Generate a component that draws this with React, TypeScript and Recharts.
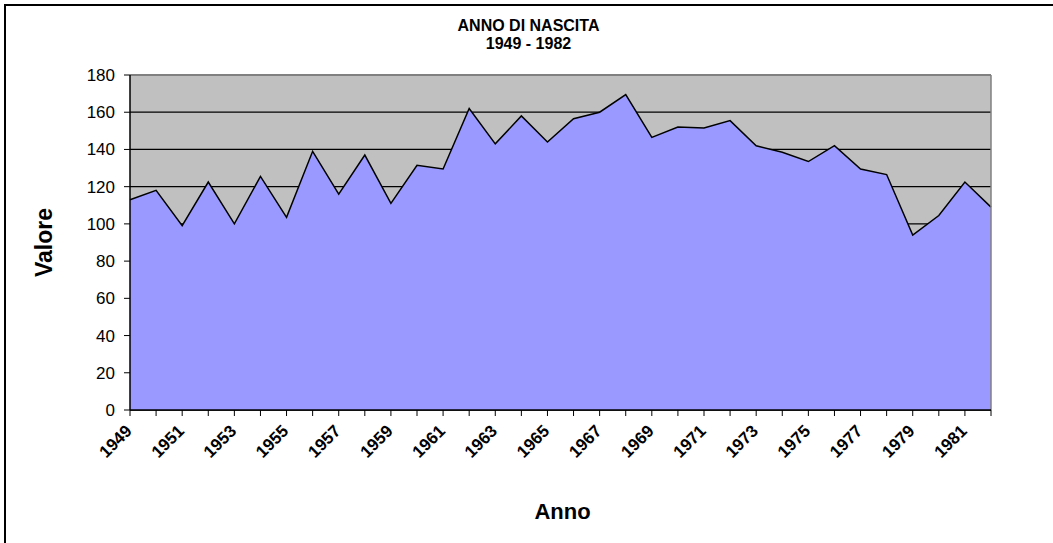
import React from 'react';
import { AreaChart, Area, XAxis, YAxis, CartesianGrid, ReferenceLine } from 'recharts';

const years = [
  1949, 1950, 1951, 1952, 1953, 1954, 1955, 1956, 1957, 1958, 1959, 1960,
  1961, 1962, 1963, 1964, 1965, 1966, 1967, 1968, 1969, 1970, 1971, 1972,
  1973, 1974, 1975, 1976, 1977, 1978, 1979, 1980, 1981, 1982,
];

const valori = [
  113, 118, 99, 122.5, 100, 125.5, 103.5, 139, 116, 137, 111, 131.5,
  129.5, 162, 143, 158, 144, 156.5, 160, 169.5, 146.5, 152, 151.5, 155.5,
  142, 138.5, 133.5, 142, 129.5, 126.5, 94, 104.5, 122.5, 109,
];

const yTicks = [0, 20, 40, 60, 80, 100, 120, 140, 160, 180];

const chartData = years.map((y, i) => ({ anno: String(y), valore: valori[i] }));

const FONT = '"Liberation Sans", Arial, sans-serif';

function YearTick(props: any) {
  const { x, y, payload, index } = props;
  if (index % 2 !== 0) return null;
  return (
    <g transform={`translate(${x + 3},${y + 14})`}>
      <text
        textAnchor="end"
        transform="rotate(-45)"
        fontFamily={FONT}
        fontSize={17}
        fontWeight="bold"
        fill="#000"
      >
        {payload.value}
      </text>
    </g>
  );
}

export default function App() {
  return (
    <div
      style={{
        position: 'absolute',
        left: 0,
        top: 0,
        width: 1053,
        height: 543,
        overflow: 'hidden',
        background: '#fff',
        fontFamily: FONT,
      }}
    >
      <div
        style={{
          position: 'absolute',
          left: 4,
          top: 4,
          width: 1200,
          height: 700,
          borderLeft: '2px solid #000',
          borderTop: '2px solid #000',
        }}
      />
      <div
        style={{
          position: 'absolute',
          left: 0,
          top: 17,
          width: 1053,
          textAlign: 'center',
          fontSize: 16,
          fontWeight: 'bold',
          lineHeight: '18px',
        }}
      >
        <div style={{ marginLeft: 4 }}>ANNO DI NASCITA</div>
        <div style={{ marginLeft: 4 }}>1949 - 1982</div>
      </div>
      <div style={{ position: 'absolute', left: 0, top: 0 }}>
        <AreaChart
          width={1053}
          height={543}
          data={chartData}
          margin={{ top: 75, right: 62, left: 0, bottom: 0 }}
        >
          <CartesianGrid
            vertical={false}
            stroke="#000"
            strokeWidth={1.3}
            fill="#C0C0C0"
            fillOpacity={1}
          />
          <XAxis
            dataKey="anno"
            interval={0}
            height={133}
            tick={<YearTick />}
            tickLine={{ stroke: '#000' }}
            axisLine={{ stroke: '#000', strokeWidth: 1.5 }}
            tickSize={6}
            label={{
              value: 'Anno',
              position: 'insideBottom',
              offset: 24,
              dx: 2,
              style: { fontFamily: FONT, fontSize: 22, fontWeight: 'bold', fill: '#000' },
            }}
          />
          <YAxis
            width={130}
            domain={[0, 180]}
            ticks={yTicks}
            interval={0}
            tick={{ fontFamily: FONT, fontSize: 17, fill: '#000' }}
            tickLine={{ stroke: '#000' }}
            axisLine={{ stroke: '#000', strokeWidth: 1.5 }}
            tickSize={6}
            tickMargin={9}
            label={{
              value: 'Valore',
              angle: -90,
              position: 'insideLeft',
              offset: 44,
              style: { fontFamily: FONT, fontSize: 23, fontWeight: 'bold', fill: '#000', textAnchor: 'middle' },
            }}
          />
          <Area
            type="linear"
            dataKey="valore"
            stroke="#000"
            strokeWidth={1.5}
            fill="#9999FF"
            fillOpacity={1}
            isAnimationActive={false}
            dot={false}
            activeDot={false}
          />
          <ReferenceLine y={180} stroke="#808080" strokeWidth={2} />
          <ReferenceLine x="1982" stroke="#808080" strokeWidth={1.5} />
        </AreaChart>
      </div>
    </div>
  );
}
